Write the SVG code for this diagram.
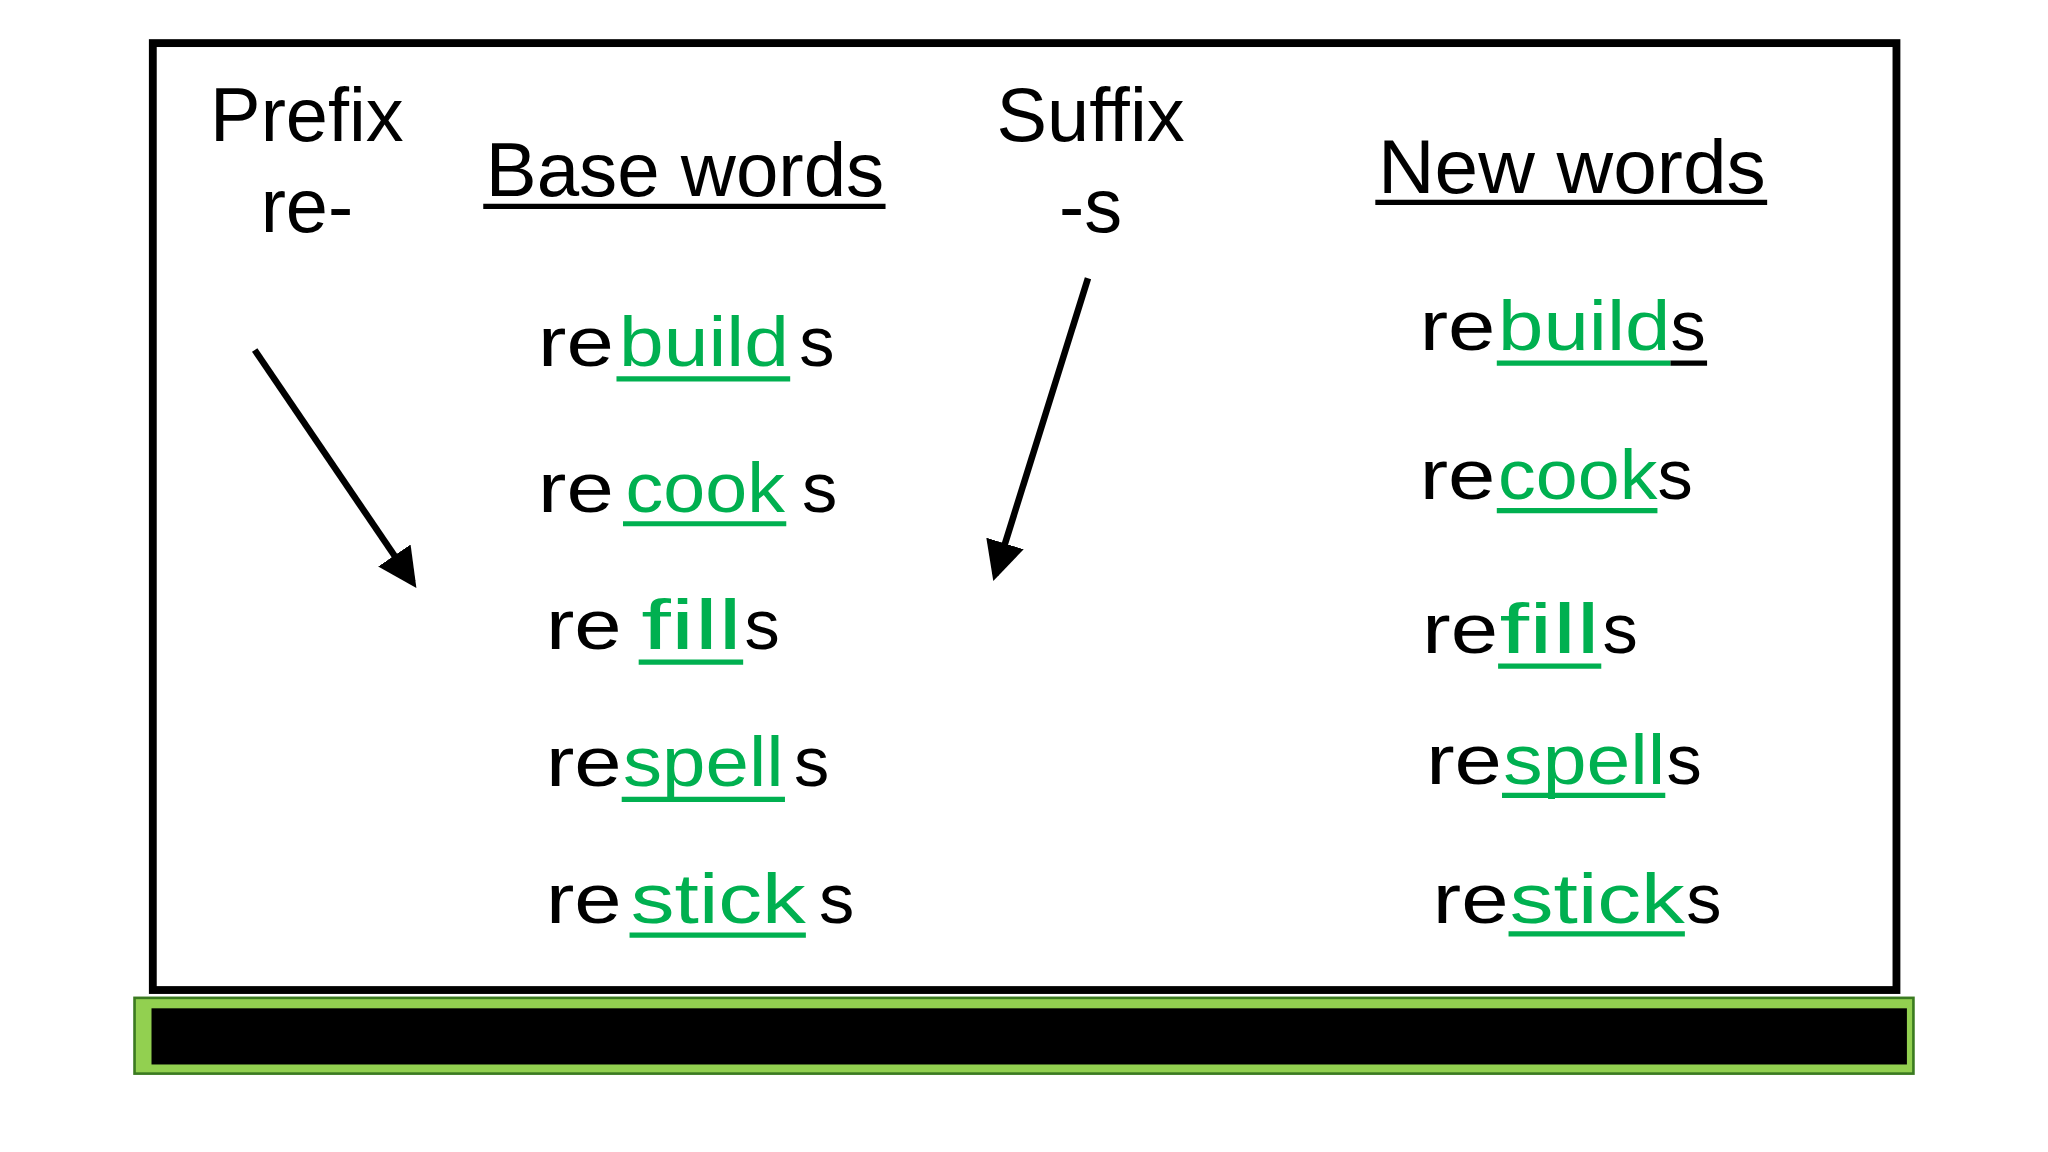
<svg xmlns="http://www.w3.org/2000/svg" width="2048" height="1152" viewBox="0 0 2048 1152">
<defs>
<style>
text{font-family:"Liberation Sans","DejaVu Sans",sans-serif;fill:#000}
.h{font-size:58px}
.w{font-size:54px}
.g{fill:#00b050}
.ug{stroke:#00b050;stroke-width:4}
.ub{stroke:#000;stroke-width:4}
.arr{stroke:#000;stroke-width:5;fill:none;marker-end:url(#ah)}
</style>
<marker id="ah" markerWidth="6" markerHeight="6" refX="5" refY="3" orient="auto" markerUnits="strokeWidth"><path d="M0,0 L6,3 L0,6 Z" fill="#000"/></marker>
</defs>
<rect width="2048" height="1152" fill="#fff"/>
<g transform="scale(1.3061)">
<g id="board"><rect x="117" y="33" width="1335" height="725" fill="#fff" stroke="#000" stroke-width="6"/></g>
<g id="shelf"><rect x="103" y="764" width="1362" height="58" fill="#92d050" stroke="#3a7a20" stroke-width="2"/><rect x="116" y="772" width="1344" height="43" fill="#000"/></g>
<g id="prefix"><text class="h" x="235" y="108" text-anchor="middle">Prefix</text><text class="h" x="235" y="178" text-anchor="middle">re-</text></g>
<g id="base-header"><text class="h" x="372" y="150" textLength="305" lengthAdjust="spacingAndGlyphs">Base words</text><line class="ub" x1="370" y1="158" x2="678" y2="158"/></g>
<g id="suffix"><text class="h" x="835" y="108" text-anchor="middle">Suffix</text><text class="h" x="835" y="178" text-anchor="middle">-s</text></g>
<g id="new-header"><text class="h" x="1055" y="148" textLength="297" lengthAdjust="spacingAndGlyphs">New words</text><line class="ub" x1="1053" y1="155" x2="1353" y2="155"/></g>
<g id="connectors">
<line class="arr" x1="195" y1="268" x2="316" y2="446"/>
<line class="arr" x1="833" y1="213" x2="762" y2="440"/>
</g>
<g id="base-words" class="w">
<text x="412" y="280" textLength="58" lengthAdjust="spacingAndGlyphs">re</text><text class="g" x="474" y="280" textLength="130" lengthAdjust="spacingAndGlyphs">build</text><text x="612" y="280">s</text><line class="ug" x1="472" y1="290" x2="605" y2="290"/>
<text x="412" y="392" textLength="58" lengthAdjust="spacingAndGlyphs">re</text><text class="g" x="479" y="392" textLength="122" lengthAdjust="spacingAndGlyphs">cook</text><text x="614" y="392">s</text><line class="ug" x1="477" y1="401" x2="602" y2="401"/>
<text x="418" y="497" textLength="58" lengthAdjust="spacingAndGlyphs">re</text><text class="g" x="491" y="497" textLength="77" lengthAdjust="spacingAndGlyphs">fill</text><text x="570" y="497">s</text><line class="ug" x1="489" y1="507" x2="569" y2="507"/>
<text x="418" y="602" textLength="58" lengthAdjust="spacingAndGlyphs">re</text><text class="g" x="477" y="602" textLength="123" lengthAdjust="spacingAndGlyphs">spell</text><text x="608" y="602">s</text><line class="ug" x1="476" y1="612" x2="601" y2="612"/>
<text x="418" y="707" textLength="58" lengthAdjust="spacingAndGlyphs">re</text><text class="g" x="483" y="707" textLength="134" lengthAdjust="spacingAndGlyphs">stick</text><text x="627" y="707">s</text><line class="ug" x1="482" y1="716" x2="617" y2="716"/>
</g>
<g id="new-words" class="w">
<text x="1087" y="268" textLength="58" lengthAdjust="spacingAndGlyphs">re</text><text class="g" x="1147" y="268" textLength="132" lengthAdjust="spacingAndGlyphs">build</text><text x="1279" y="268">s</text><line class="ug" x1="1146" y1="278" x2="1279" y2="278"/><line class="ub" x1="1279" y1="278" x2="1307" y2="278"/>
<text x="1087" y="382" textLength="58" lengthAdjust="spacingAndGlyphs">re</text><text class="g" x="1147" y="382" textLength="122" lengthAdjust="spacingAndGlyphs">cook</text><text x="1269" y="382">s</text><line class="ug" x1="1146" y1="391" x2="1269" y2="391"/>
<text x="1089" y="500" textLength="58" lengthAdjust="spacingAndGlyphs">re</text><text class="g" x="1148" y="500" textLength="77" lengthAdjust="spacingAndGlyphs">fill</text><text x="1227" y="500">s</text><line class="ug" x1="1147" y1="510" x2="1226" y2="510"/>
<text x="1092" y="600" textLength="58" lengthAdjust="spacingAndGlyphs">re</text><text class="g" x="1151" y="600" textLength="124" lengthAdjust="spacingAndGlyphs">spell</text><text x="1276" y="600">s</text><line class="ug" x1="1150" y1="609" x2="1275" y2="609"/>
<text x="1097" y="707" textLength="58" lengthAdjust="spacingAndGlyphs">re</text><text class="g" x="1156" y="707" textLength="134" lengthAdjust="spacingAndGlyphs">stick</text><text x="1291" y="707">s</text><line class="ug" x1="1155" y1="715" x2="1290" y2="715"/>
</g>
</g>
</svg>
